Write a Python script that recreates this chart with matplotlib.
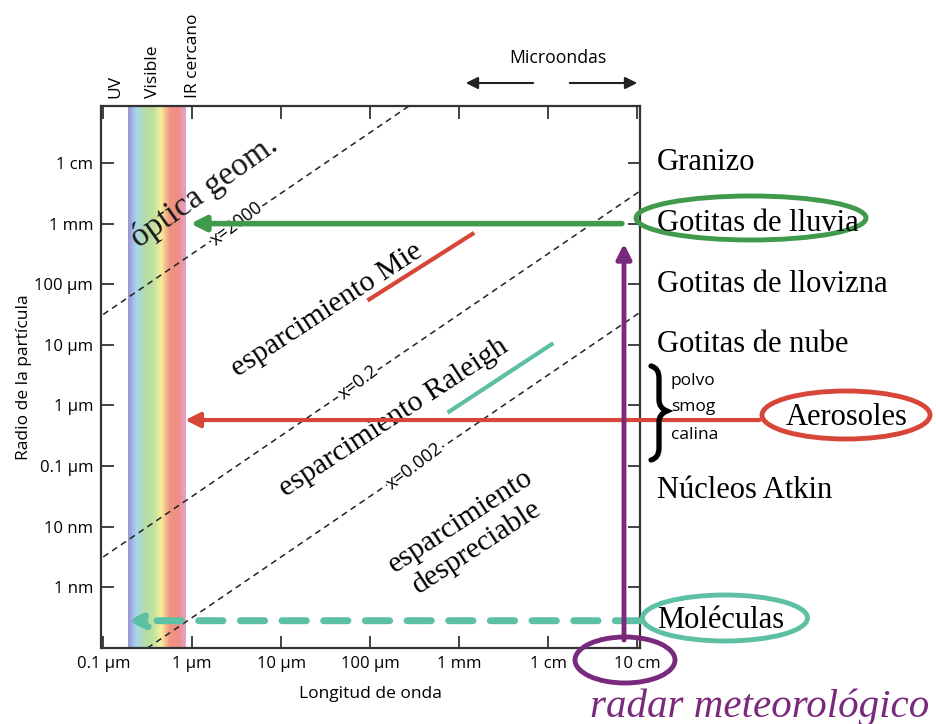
import numpy as np
import matplotlib.pyplot as plt
import matplotlib.transforms as mtrans
from matplotlib.patches import Ellipse, PathPatch
from matplotlib.path import Path
from matplotlib.colors import LinearSegmentedColormap

# --- data (wavelength and radius in metres) ---
x_ticks = [1e-7, 1e-6, 1e-5, 1e-4, 1e-3, 1e-2, 1e-1]
x_labels = ["0.1 μm", "1 μm", "10 μm", "100 μm", "1 mm", "1 cm", "10 cm"]
y_ticks = [1e-9, 1e-8, 1e-7, 1e-6, 1e-5, 1e-4, 1e-3, 1e-2]
y_labels = ["1 nm", "10 nm", "0.1 μm", "1 μm", "10 μm", "100 μm", "1 mm", "1 cm"]

# spectrum band (micrometres) and its colours
band_um = [0.19, 0.23, 0.28, 0.34, 0.44, 0.47, 0.73, 0.86]
band_colors = ["#9a97d6", "#a7d6ec", "#b4dca6", "#bfe0a0", "#f5ef9c", "#f19583", "#ee8e82", "#e3a2cc"]

# size parameter lines x = 2*pi*r/lambda
size_params = [2000, 0.2, 0.002]
size_labels = ["x=2000", "x=0.2", "x=0.002"]
size_label_lam = [10**-5.5, 10**-4.13, 10**-3.5]

# particle types (radius)
particles = ["Granizo", "Gotitas de lluvia", "Gotitas de llovizna", "Gotitas de nube",
             "Núcleos Atkin", "Moléculas"]
particle_r = [1e-2, 1e-3, 1e-4, 1e-5, 10**-7.4, 10**-9.55]

# arrows: (tail lambda, tip lambda, radius)
rain_arrow = (10**-1.17, 10**-6.02, 1e-3)
aerosol_arrow = (10**0.38, 10**-6.08, 10**-6.24)
molecule_arrow = (10**-0.97, 10**-6.72, 10**-9.55)
radar_arrow = (10**-1.146, 10**-9.87, 10**-3.33)  # lambda, r tail, r tip

# slope indicators (log lambda, log r)
mie_seg = ([-4.01, -2.85], [-4.25, -3.17])
raleigh_seg = ([-3.11, -1.96], [-6.10, -4.99])

# region names: (text, log lambda, log r)
regions = [("esparcimiento Mie", -4.49, -4.42),
           ("esparcimiento Raleigh", -3.74, -6.20),
           ("esparcimiento\ndespreciable", -2.89, -8.13)]

green = "#3f9a4c"
red = "#d8463a"
teal = "#5dbfa3"
purple = "#7a2a7c"

plt.rcParams['font.family'] = ['Open Sans', 'DejaVu Sans']

fig = plt.figure(figsize=(9.37, 7.24), dpi=100)
ax = fig.add_axes([101.5 / 937, 1 - 648 / 724, 538.5 / 937, 542 / 724])
ax.set_xscale("log")
ax.set_yscale("log")
ax.set_xlim(10**-7.02, 10**-0.966)
ax.set_ylim(1e-10, 10**-1.06)

# spectrum band as a gradient of thin spans
cmap = LinearSegmentedColormap.from_list(
    "spec", list(zip(np.linspace(0, 1, len(band_colors)), band_colors)))
lo, hi = np.log10(band_um[0] * 1e-6), np.log10(band_um[-1] * 1e-6)
edges = np.linspace(lo, hi, 120)
for i in range(len(edges) - 1):
    ax.axvspan(10**edges[i], 10**edges[i + 1], color=cmap(i / (len(edges) - 2)), lw=0)

# size parameter lines
lam = np.logspace(-7.1, -0.9, 50)
fig.canvas.draw()
p0 = ax.transData.transform((1e-6, 1e-6))
p1 = ax.transData.transform((1e-3, 1e-3))
ang = np.degrees(np.arctan2(p1[1] - p0[1], p1[0] - p0[0]))
for xp, lab, ll in zip(size_params, size_labels, size_label_lam):
    ax.plot(lam, xp * lam / (2 * np.pi), color="#222222", lw=1.1, ls=(0, (4, 3)))
    ax.text(ll, xp * ll / (2 * np.pi), lab, rotation=ang + 3, ha="center", va="center",
            fontsize=13, rotation_mode="anchor",
            bbox=dict(fc="white", ec="none", pad=0.5))

# slope indicators
ax.plot(10**np.array(mie_seg[0]), 10**np.array(mie_seg[1]), color=red, lw=3)
ax.plot(10**np.array(raleigh_seg[0]), 10**np.array(raleigh_seg[1]), color=teal, lw=3)

# region names
serif = "Liberation Serif"
ax.text(10**-5.86, 10**-2.47, "óptica geom.", rotation=ang + 1, ha="center", va="center",
        fontsize=24, family=serif, color="#1a1a1a", rotation_mode="anchor")
for txt, lx, ly in regions:
    ax.text(10**lx, 10**ly, txt, rotation=ang - 1, ha="center", va="center",
            fontsize=21.5, family=serif, rotation_mode="anchor", linespacing=1.25)

# arrows
def arrow(tail, tip, color, lw, ls="-", ms=22):
    ax.annotate("", xy=tip, xytext=tail, annotation_clip=False,
                arrowprops=dict(arrowstyle="-|>", color=color, lw=lw, ls=ls,
                                mutation_scale=ms, shrinkA=0, shrinkB=0))

arrow((rain_arrow[0], rain_arrow[2]), (rain_arrow[1], rain_arrow[2]), green, 4)
arrow((aerosol_arrow[0], aerosol_arrow[2]), (aerosol_arrow[1], aerosol_arrow[2]), red, 3)
arrow((molecule_arrow[0], molecule_arrow[2]), (molecule_arrow[1], molecule_arrow[2]),
      teal, 5, ls=(0, (3.5, 2.5)))
arrow((radar_arrow[0], radar_arrow[1]), (radar_arrow[0], radar_arrow[2]), purple, 3.5)

# axes styling
ax.set_xticks(x_ticks)
ax.set_xticklabels(x_labels)
ax.set_yticks(y_ticks)
ax.set_yticklabels(y_labels)
ax.minorticks_off()
ax.tick_params(direction="in", length=9, width=1.3, labelsize=12, color="#333333",
               top=True, right=True, pad=6)
for s in ax.spines.values():
    s.set_linewidth(1.6)
    s.set_color("#333333")
ax.set_xlabel("Longitud de onda", fontsize=12.5, labelpad=10)
ax.set_ylabel("Radio de la partícula", fontsize=12.5, labelpad=2)

# overlay in pixel coordinates for the annotations outside the frame
ov = fig.add_axes([0, 0, 1, 1])
ov.set_xlim(0, 937)
ov.set_ylim(724, 0)
ov.axis("off")
ov.patch.set_alpha(0)

bt = mtrans.blended_transform_factory(ov.transData, ax.transData)
for name, r in zip(particles, particle_r):
    ov.text(657, r, name, transform=bt, fontsize=22, family=serif, va="center")
ov.text(786, 10**-6.2, "Aerosoles", transform=bt, fontsize=22, family=serif, va="center")

# curly brace
brace = Path([(651, 366), (659, 368), (659, 378), (659, 400), (659, 408), (667, 411),
              (659, 414), (659, 422), (659, 448), (659, 458), (651, 460)],
             [Path.MOVETO, Path.CURVE3, Path.CURVE3, Path.LINETO, Path.CURVE3, Path.CURVE3,
              Path.CURVE3, Path.CURVE3, Path.LINETO, Path.CURVE3, Path.CURVE3])
ov.add_patch(PathPatch(brace, fill=False, ec="black", lw=3.8, capstyle="round"))
for txt, y in zip(["polvo", "smog", "calina"], [381, 407, 435]):
    ov.text(671, y, txt, fontsize=12.5, va="center")

ov.add_patch(Ellipse((751, 218), 230, 44, fill=False, ec=green, lw=3.5))
ov.add_patch(Ellipse((846, 415), 168, 48, fill=False, ec=red, lw=3.5))
ov.add_patch(Ellipse((725, 618), 165, 46, fill=False, ec=teal, lw=3.5))
ov.add_patch(Ellipse((625, 660), 100, 46, fill=False, ec=purple, lw=3.5))

ov.text(760, 707, "radar meteorológico", fontsize=29.5, family=serif, style="italic",
        color=purple, ha="center", va="center")

# spectrum labels
for txt, x in zip(["UV", "Visible", "IR cercano"], [115, 153, 193]):
    ov.text(x, 98, txt, rotation=90, fontsize=12.5, ha="center", va="bottom")

# microwave label and arrows
ov.text(558, 58, "Microondas", fontsize=12.7, ha="center", va="center")
ov.annotate("", xy=(463, 83), xytext=(536, 83),
            arrowprops=dict(arrowstyle="-|>", color="#222222", lw=1.5, mutation_scale=18))
ov.annotate("", xy=(640, 83), xytext=(567, 83),
            arrowprops=dict(arrowstyle="-|>", color="#222222", lw=1.5, mutation_scale=18))

fig.savefig("out.png", dpi=100)
